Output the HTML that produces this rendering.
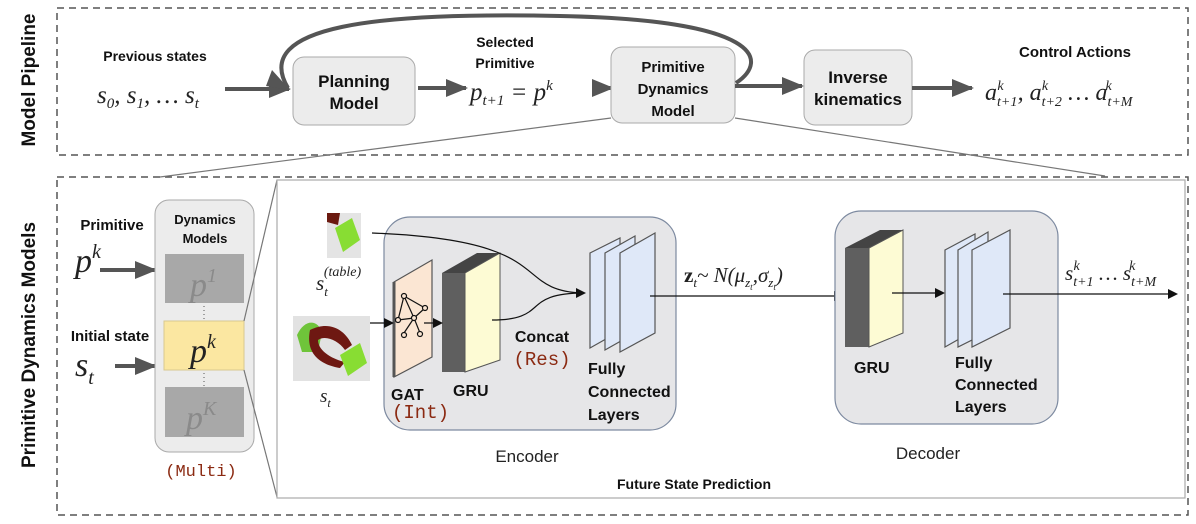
<!DOCTYPE html>
<html><head><meta charset="utf-8"><style>
html,body{margin:0;padding:0;background:#fff}
svg{display:block}
.b{font-family:"Liberation Sans",sans-serif;font-weight:bold;fill:#111}
.m{font-family:"Liberation Serif",serif;font-style:italic;fill:#222}
.c{font-family:"Liberation Mono",monospace;fill:#8b2a12}
.n{font-family:"Liberation Sans",sans-serif;fill:#222}
</style></head><body>
<svg width="1196" height="524" viewBox="0 0 1196 524" xmlns="http://www.w3.org/2000/svg" font-size="14">
<defs>
<marker id="ah" markerWidth="10" markerHeight="10" refX="8" refY="5" orient="auto" markerUnits="userSpaceOnUse"><path d="M0,0 L10,5 L0,10Z" fill="#111"/></marker>
<marker id="AH" markerWidth="24" markerHeight="20" refX="20" refY="10" orient="auto" markerUnits="userSpaceOnUse"><path d="M0,1 L22,10 L0,19Z" fill="#555"/></marker>
</defs>
<rect x="57" y="8" width="1131" height="147" fill="none" stroke="#555" stroke-width="1.5" stroke-dasharray="7,5"/>
<rect x="57" y="177" width="1131" height="338" fill="none" stroke="#555" stroke-width="1.5" stroke-dasharray="7,5"/>
<text class="b" transform="translate(35,80) rotate(-90)" text-anchor="middle" font-size="19">Model Pipeline</text>
<text class="b" transform="translate(35,345) rotate(-90)" text-anchor="middle" font-size="19">Primitive Dynamics Models</text>

<text class="b" x="155" y="61" text-anchor="middle" font-size="14">Previous states</text>
<text class="m" x="97" y="103" font-size="25">s<tspan font-size="15" dy="5">0</tspan><tspan dy="-5">, s</tspan><tspan font-size="15" dy="5">1</tspan><tspan dy="-5">, … s</tspan><tspan font-size="15" dy="5">t</tspan></text>
<line x1="225" y1="89" x2="289" y2="89" stroke="#555" stroke-width="4" marker-end="url(#AH)"/>
<rect x="293" y="57" width="122" height="68" rx="11" fill="#ececec" stroke="#aaa"/>
<text class="b" x="354" y="87" text-anchor="middle" font-size="17">Planning</text>
<text class="b" x="354" y="109" text-anchor="middle" font-size="17">Model</text>
<line x1="418" y1="88" x2="466" y2="88" stroke="#555" stroke-width="4" marker-end="url(#AH)"/>
<text class="b" x="505" y="47" text-anchor="middle" font-size="14">Selected</text>
<text class="b" x="505" y="68" text-anchor="middle" font-size="14">Primitive</text>
<text class="m" x="470" y="100" font-size="25">p<tspan font-size="15" dy="5">t+1</tspan><tspan dy="-5"> =  p</tspan><tspan font-size="15" dy="-10">k</tspan></text>
<path d="M600,88 L612,88" stroke="#555" stroke-width="4" marker-end="url(#AH)"/>
<rect x="611" y="47" width="124" height="76" rx="11" fill="#ececec" stroke="#aaa"/>
<text class="b" x="673" y="72" text-anchor="middle" font-size="15">Primitive</text>
<text class="b" x="673" y="94" text-anchor="middle" font-size="15">Dynamics</text>
<text class="b" x="673" y="116" text-anchor="middle" font-size="15">Model</text>
<line x1="735" y1="86" x2="802" y2="86" stroke="#555" stroke-width="4" marker-end="url(#AH)"/>
<rect x="804" y="50" width="108" height="75" rx="11" fill="#ececec" stroke="#aaa"/>
<text class="b" x="858" y="83" text-anchor="middle" font-size="17">Inverse</text>
<text class="b" x="858" y="105" text-anchor="middle" font-size="17">kinematics</text>
<line x1="912" y1="88" x2="972" y2="88" stroke="#555" stroke-width="4" marker-end="url(#AH)"/>
<text class="b" x="1075" y="57" text-anchor="middle" font-size="15">Control Actions</text>
<text class="m" x="985" y="100" font-size="24">a<tspan font-size="14" dy="6">t+1</tspan><tspan font-size="14" dx="-20" dy="-16">k</tspan><tspan dx="14" dy="10">, a</tspan><tspan font-size="14" dy="6">t+2</tspan><tspan font-size="14" dx="-20" dy="-16">k</tspan><tspan dx="14" dy="10"> … a</tspan><tspan font-size="14" dy="6">t+M</tspan><tspan font-size="14" dx="-27" dy="-16">k</tspan></text>
<path d="M736,83 C770,60 760,20 560,16 C380,12 250,25 288,88" fill="none" stroke="#555" stroke-width="4"/>
<path d="M272,70 L290,90 L266,86Z" fill="#555"/>
<line x1="611" y1="118" x2="160" y2="177" stroke="#777" stroke-width="1.2"/>
<line x1="735" y1="118" x2="1105" y2="176" stroke="#777" stroke-width="1.2"/>

<text class="b" x="112" y="230" text-anchor="middle" font-size="15">Primitive</text>
<text class="m" x="75" y="272" font-size="34">p<tspan font-size="20" dy="-14">k</tspan></text>
<line x1="100" y1="270" x2="155" y2="270" stroke="#555" stroke-width="4" marker-end="url(#AH)"/>
<text class="b" x="110" y="341" text-anchor="middle" font-size="15">Initial state</text>
<text class="m" x="75" y="376" font-size="34">s<tspan font-size="20" dy="8">t</tspan></text>
<line x1="115" y1="366" x2="155" y2="366" stroke="#555" stroke-width="4" marker-end="url(#AH)"/>
<rect x="155" y="200" width="99" height="252" rx="14" fill="#ececec" stroke="#aaa"/>
<text class="b" x="205" y="224" text-anchor="middle" font-size="13">Dynamics</text>
<text class="b" x="205" y="243" text-anchor="middle" font-size="13">Models</text>
<rect x="165" y="254" width="79" height="49" fill="#a8a8a8"/>
<text class="m" x="190" y="296" font-size="34" style="fill:#8a8a8a">p<tspan font-size="20" dy="-14">1</tspan></text>
<rect x="164" y="321" width="80" height="49" fill="#fbe7a1" stroke="#d8c890"/>
<text class="m" x="190" y="362" font-size="34">p<tspan font-size="20" dy="-14">k</tspan></text>
<rect x="165" y="387" width="79" height="50" fill="#a8a8a8"/>
<text class="m" x="186" y="429" font-size="34" style="fill:#8a8a8a">p<tspan font-size="20" dy="-14">K</tspan></text>
<line x1="204" y1="306" x2="204" y2="319" stroke="#555" stroke-dasharray="1,3"/>
<line x1="204" y1="373" x2="204" y2="386" stroke="#555" stroke-dasharray="1,3"/>
<text class="c" x="201" y="476" text-anchor="middle" font-size="17">(Multi)</text>
<line x1="244" y1="321" x2="277" y2="180" stroke="#777" stroke-width="1.2"/>
<line x1="244" y1="370" x2="277" y2="497" stroke="#777" stroke-width="1.2"/>

<rect x="277" y="180" width="908" height="318" fill="#fff" stroke="#aaa" stroke-width="1.2"/>
<text class="b" x="694" y="489" text-anchor="middle" font-size="14">Future State Prediction</text>

<rect x="327" y="213" width="34" height="45" fill="#e4e4e4"/>
<path d="M327,213 L340,213 L338,225 L327,222Z" fill="#6b1a10"/>
<path d="M335,228 L352,218 L360,240 L343,252Z" fill="#88dd33"/>
<rect x="293" y="316" width="77" height="65" fill="#e2e2e2"/>
<path d="M297,335 C305,318 318,320 322,332 L318,352 L302,352Z" fill="#6fc43a"/>
<path d="M310,330 C330,320 345,330 352,345 L345,350 C338,340 325,335 318,340 C318,352 335,360 345,362 L340,368 C322,365 305,355 310,330Z" fill="#6e1812"/>
<path d="M340,355 L360,343 L367,363 L348,376Z" fill="#88dd33"/>
<text class="m" x="316" y="290" font-size="21">s<tspan font-size="13" dy="6">t</tspan><tspan font-size="14" dx="-4" dy="-20">(table)</tspan></text>
<text class="m" x="320" y="402" font-size="19">s<tspan font-size="12" dy="5">t</tspan></text>

<rect x="384" y="217" width="292" height="213" rx="26" fill="#e6e6e8" stroke="#7d8aa0" stroke-width="1.2"/>
<polygon points="394,282 432,260 432,357 394,377" fill="#fbe6d3" stroke="#555" stroke-width="1.2"/>
<line x1="394" y1="282" x2="394" y2="377" stroke="#555" stroke-width="3"/>
<g stroke="#111" stroke-width="1.2" fill="#fbe6d3">
<line x1="404" y1="296" x2="398" y2="320"/><line x1="404" y1="296" x2="425" y2="308"/><line x1="404" y1="296" x2="414" y2="318"/><line x1="398" y1="320" x2="414" y2="318"/><line x1="425" y1="308" x2="414" y2="318"/><line x1="414" y1="318" x2="404" y2="333"/><line x1="414" y1="318" x2="420" y2="333"/>
<circle cx="404" cy="296" r="2.5"/><circle cx="398" cy="320" r="2.5"/><circle cx="425" cy="308" r="2.5"/><circle cx="414" cy="318" r="2.5"/><circle cx="404" cy="335" r="2.5"/><circle cx="420" cy="334" r="2.5"/>
</g>
<polygon points="442,273 477,253 500,253 465,273" fill="#444"/>
<rect x="442" y="273" width="23" height="99" fill="#5f5f5f"/>
<polygon points="465,273 500,253 500,360 465,372" fill="#fdfbd4" stroke="#555"/>
<line x1="370" y1="323" x2="392" y2="323" stroke="#111" stroke-width="1.2" marker-end="url(#ah)"/>
<line x1="424" y1="323" x2="441" y2="323" stroke="#111" stroke-width="1.2" marker-end="url(#ah)"/>
<path d="M372,233 C560,240 510,290 582,293" fill="none" stroke="#111" stroke-width="1.2"/>
<path d="M492,320 C550,320 520,293 584,293" fill="none" stroke="#111" stroke-width="1.2" marker-end="url(#ah)"/>
<g stroke="#555" stroke-width="1.2" fill="#dfe8f8">
<polygon points="590,253 620,238 620,331 590,348"/>
<polygon points="605,253 635,236 635,333 605,350"/>
<polygon points="620,253 655,233 655,333 620,352"/>
</g>
<text class="b" x="542" y="342" text-anchor="middle" font-size="16">Concat</text>
<text class="c" x="542" y="365" text-anchor="middle" font-size="19">(Res)</text>
<text class="b" x="391" y="400" font-size="16">GAT</text>
<text class="c" x="392" y="418" font-size="19">(Int)</text>
<text class="b" x="453" y="396" font-size="16">GRU</text>
<text class="b" x="588" y="374" font-size="16">Fully</text>
<text class="b" x="588" y="397" font-size="16">Connected</text>
<text class="b" x="588" y="420" font-size="16">Layers</text>
<text class="n" x="527" y="462" text-anchor="middle" font-size="17">Encoder</text>

<line x1="650" y1="296" x2="842" y2="296" stroke="#111" stroke-width="1.2" marker-end="url(#ah)"/>
<text class="m" x="684" y="282" font-size="21"><tspan font-weight="bold" font-style="normal">z</tspan><tspan font-size="13" dy="5">t</tspan><tspan dy="-5">~ N(μ</tspan><tspan font-size="13" dy="5">z</tspan><tspan font-size="9" dy="3">t</tspan><tspan dy="-8">,σ</tspan><tspan font-size="13" dy="5">z</tspan><tspan font-size="9" dy="3">t</tspan><tspan dy="-8">)</tspan></text>

<rect x="835" y="211" width="223" height="213" rx="26" fill="#e6e6e8" stroke="#7d8aa0" stroke-width="1.2"/>
<polygon points="845,248 880,230 903,230 869,248" fill="#444"/>
<rect x="845" y="248" width="24" height="99" fill="#5f5f5f"/>
<polygon points="869,248 903,230 903,333 869,347" fill="#fdfbd4" stroke="#555"/>
<line x1="892" y1="293" x2="943" y2="293" stroke="#111" stroke-width="1.2" marker-end="url(#ah)"/>
<g stroke="#555" stroke-width="1.2" fill="#dfe8f8">
<polygon points="945,250 975,234 975,330 945,347"/>
<polygon points="958,250 988,232 988,332 958,347"/>
<polygon points="972,250 1010,230 1010,328 972,347"/>
</g>
<line x1="1003" y1="294" x2="1176" y2="294" stroke="#111" stroke-width="1.2" marker-end="url(#ah)"/>
<text class="m" x="1065" y="280" font-size="21">s<tspan font-size="14" dy="6">t+1</tspan><tspan font-size="14" dx="-20" dy="-16">k</tspan><tspan dx="14" dy="10"> … s</tspan><tspan font-size="14" dy="6">t+M</tspan><tspan font-size="14" dx="-27" dy="-16">k</tspan></text>
<text class="b" x="854" y="373" font-size="16">GRU</text>
<text class="b" x="955" y="368" font-size="16">Fully</text>
<text class="b" x="955" y="390" font-size="16">Connected</text>
<text class="b" x="955" y="412" font-size="16">Layers</text>
<text class="n" x="928" y="459" text-anchor="middle" font-size="17">Decoder</text>
</svg>
</body></html>
